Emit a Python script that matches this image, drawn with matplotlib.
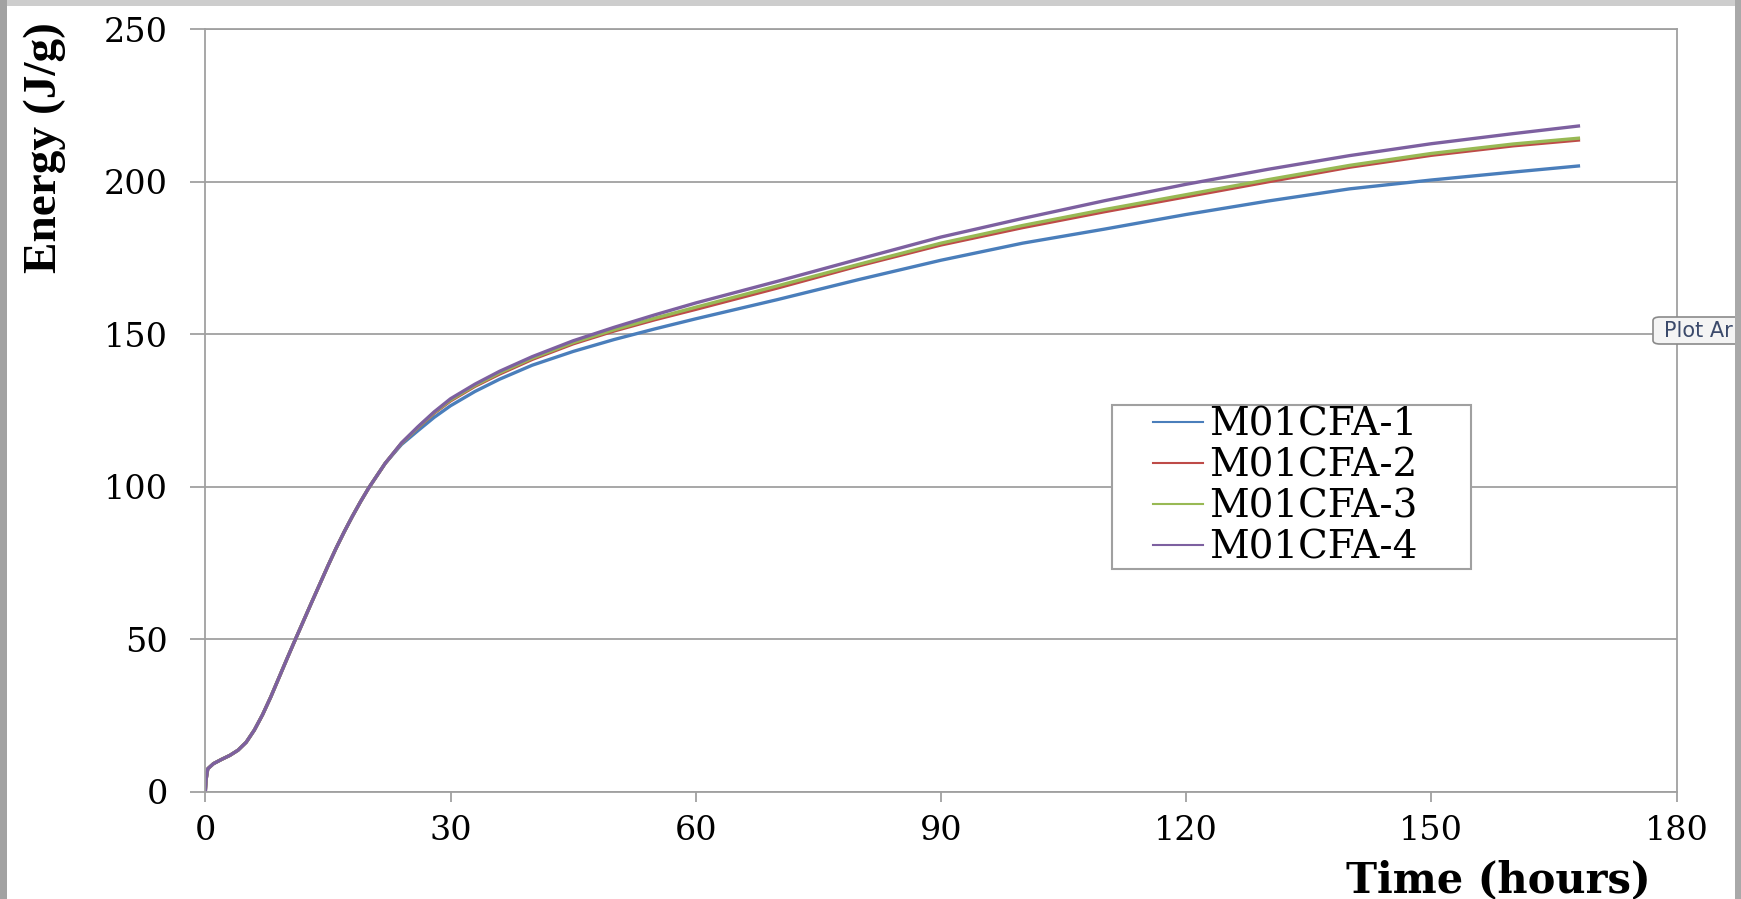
import matplotlib
matplotlib.use('Agg')
import matplotlib.pyplot as plt
from matplotlib.patches import Rectangle, FancyBboxPatch
from matplotlib.lines import Line2D
from matplotlib.legend_handler import HandlerLine2D

# hydration energy
time_h = [0, 0.1, 0.3, 1, 2, 3, 4, 5, 6, 7, 8, 9, 10, 11, 12, 13, 14, 15, 16,
          17, 18, 19, 20, 22, 24, 26, 28, 30, 33, 36, 40, 45, 50, 55, 60, 70,
          80, 90, 100, 110, 120, 130, 140, 150, 160, 168]

early = [0, 4, 7.5, 9.2, 10.6, 11.9, 13.6, 16.2, 20.2, 25.2, 31, 37.3, 43.6,
         49.8, 55.9, 62, 68, 74, 79.8, 85.2, 90.3, 95.1, 99.6, 107.6]

m01cfa_1 = early + [113.8, 118.3, 122.7, 126.5, 131.2, 135.2, 139.8, 144.3, 148.2,
                    151.7, 155.0, 161.3, 167.9, 174.2, 179.8, 184.4, 189.2,
                    193.6, 197.6, 200.5, 203.1, 205.1]
m01cfa_2 = early + [114.2, 119.3, 124.1, 128.1, 132.9, 136.9, 141.7, 146.8, 151.0,
                    154.7, 158.1, 165.1, 172.4, 179.2, 184.9, 190.1, 195.0,
                    199.9, 204.7, 208.6, 211.7, 213.6]
m01cfa_3 = early + [114.2, 119.4, 124.3, 128.4, 133.2, 137.3, 142.1, 147.2, 151.4,
                    155.2, 158.8, 165.8, 172.9, 179.8, 185.6, 190.8, 195.7,
                    200.6, 205.3, 209.2, 212.3, 214.2]
m01cfa_4 = early + [114.3, 119.6, 124.5, 128.8, 133.6, 137.8, 142.6, 147.8, 152.2,
                    156.3, 160.2, 167.3, 174.6, 181.8, 187.9, 193.7, 199.1,
                    204.0, 208.5, 212.4, 215.7, 218.2]

names = ['M01CFA-1', 'M01CFA-2', 'M01CFA-3', 'M01CFA-4']
colors = ['#4a7ebb', '#be4b48', '#98b954', '#7d60a0']

plt.rcParams['font.family'] = 'DejaVu Serif'
W, H = 1741, 899

fig = plt.figure(figsize=(W / 100, H / 100), dpi=100)
fig.patch.set_facecolor('#cdcdcd')
# white slide area with grey frame around it
fig.add_artist(Rectangle((7 / W, 0), (1735 - 7) / W, 1 - 6 / H, transform=fig.transFigure,
                         facecolor='white', edgecolor='none', zorder=-1))
fig.add_artist(Rectangle((0, 0), 7 / W, 1, transform=fig.transFigure,
                         facecolor='#a2a2a2', edgecolor='none', zorder=-1))
fig.add_artist(Rectangle((1735 / W, 0), 6 / W, 1, transform=fig.transFigure,
                         facecolor='#a9a9a9', edgecolor='none', zorder=10))

ax = fig.add_axes([205.3 / W, 1 - 791.7 / H, (1676.5 - 205.3) / W, (791.7 - 29) / H])

for series, name, c in zip([m01cfa_1, m01cfa_2, m01cfa_3, m01cfa_4], names, colors):
    ax.plot(time_h, series, color=c, linewidth=2.4, label=name)

ax.set_xlim(0, 180)
ax.set_ylim(0, 250)
ax.set_xticks(range(0, 181, 30))
ax.set_yticks(range(0, 251, 50))
ax.yaxis.grid(True, color='#a0a0a0', linewidth=1.3)
ax.set_axisbelow(True)
for s in ax.spines.values():
    s.set_color('#a0a0a0')
    s.set_linewidth(1.3)
ax.tick_params(axis='x', length=7, width=1.3, color='#a0a0a0', pad=10, labelsize=24)
ax.tick_params(axis='y', length=11, width=1.3, color='#a0a0a0', pad=16, labelsize=24)

leg = ax.legend(loc='upper left', bbox_to_anchor=(0.6163, 0.2947, 0.244, 0.2123),
                mode='expand', borderaxespad=0, fontsize=28, frameon=True,
                fancybox=False, edgecolor='#a0a0a0', framealpha=1,
                handlelength=2.3, handletextpad=0.15, labelspacing=0.1,
                borderpad=0.05, handler_map={Line2D: HandlerLine2D(xpad=1.0)})
leg.get_frame().set_linewidth(1.5)
for h in leg.get_lines():
    h.set_linewidth(1.5)

fig.text(45 / W, 1 - 148 / H, 'Energy (J/g)', rotation=90, ha='center', va='center',
         fontsize=34, fontweight='bold', family='Liberation Serif')
fig.text(1498 / W, 1 - 880 / H, 'Time (hours)', ha='center', va='center',
         fontsize=30, fontweight='bold')

# Excel tooltip cut by the right edge of the screenshot
fig.add_artist(FancyBboxPatch((1653 / W, 1 - 344 / H), 120 / W, 27 / H,
                              boxstyle='round,pad=0,rounding_size=0.004',
                              transform=fig.transFigure, facecolor='#f4f4f4',
                              edgecolor='#8a8a8a', linewidth=1.2, zorder=5))
fig.text(1664 / W, 1 - 331 / H, 'Plot Ar', ha='left', va='center', fontsize=15,
         family='DejaVu Sans', color='#3b4a6b', zorder=6)

fig.savefig('out.png', dpi=100, facecolor=fig.get_facecolor())
